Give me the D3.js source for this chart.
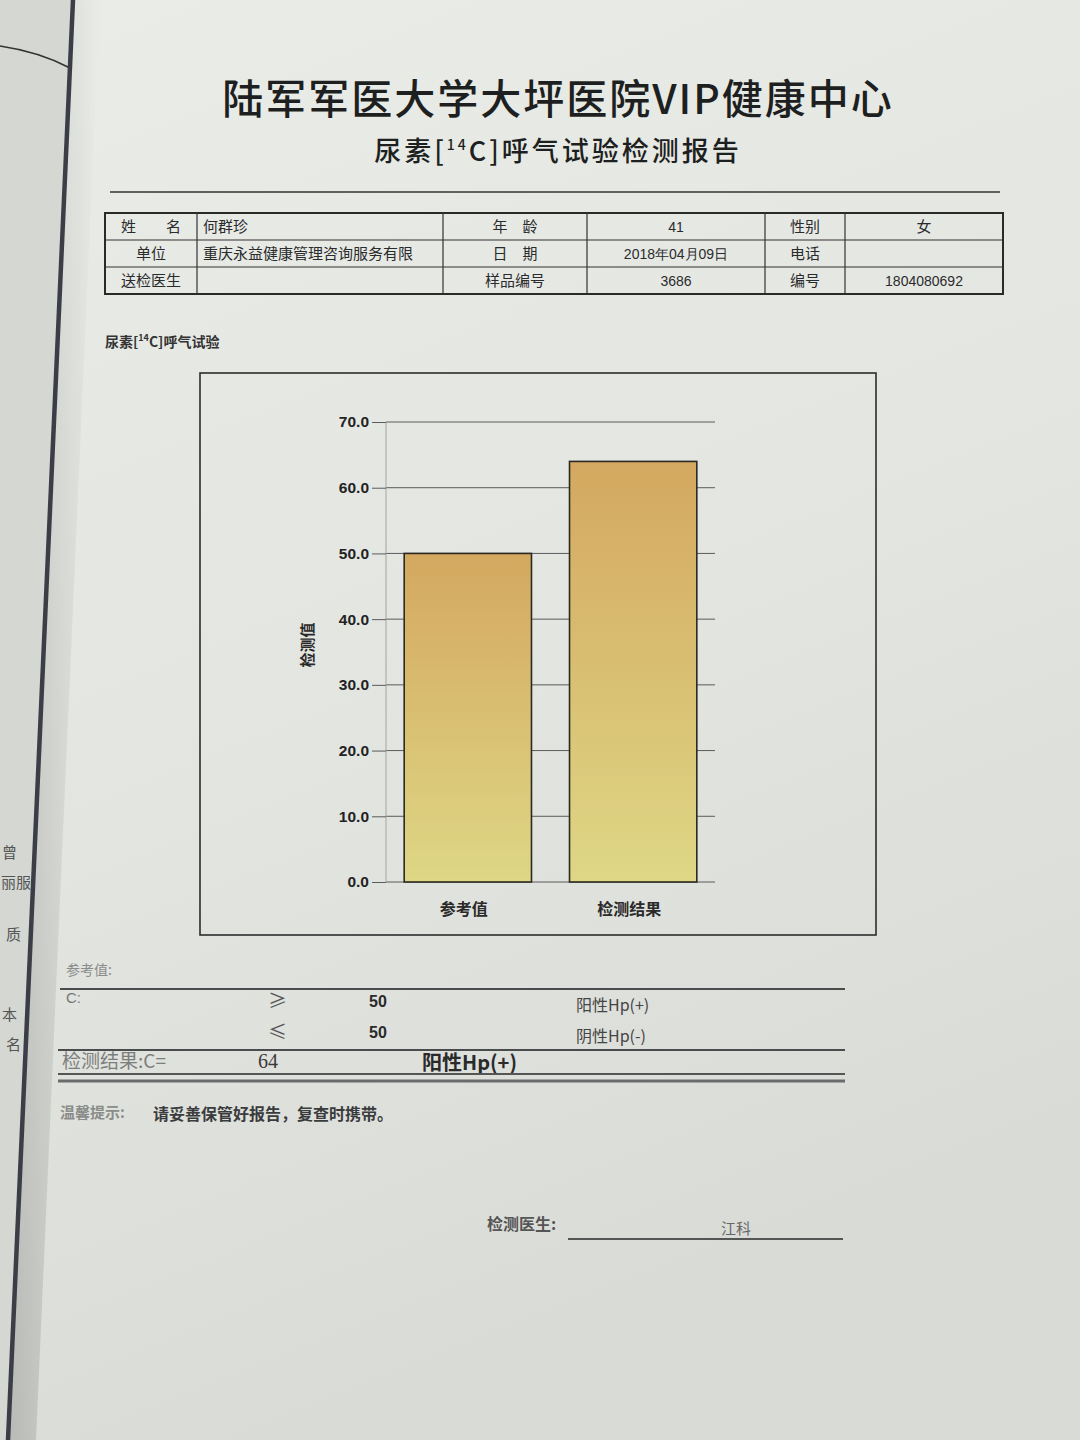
<!DOCTYPE html>
<html>
<head>
<meta charset="utf-8">
<script src="https://cdn.jsdelivr.net/npm/d3@7"></script>
<style>
  body { margin: 0; background: #e2e4e0; }
  svg { display: block; }
</style>
</head>
<body>
<svg id="page" width="1080" height="1440"></svg>
<script>
// ---------------- DATA ----------------
const titleMain = "陆军军医大学大坪医院VIP健康中心";
const categories = ["参考值", "检测结果"];
const values = [50, 64];
const yTicks = [0, 10, 20, 30, 40, 50, 60, 70];
const yAxisTitle = "检测值";
const tableRows = [
  ["姓　　名", "何群珍", "年　龄", "41", "性别", "女"],
  ["单位", "重庆永益健康管理咨询服务有限", "日　期", "2018年04月09日", "电话", ""],
  ["送检医生", "", "样品编号", "3686", "编号", "1804080692"]
];
const refRows = [
  ["≥", "50", "阳性Hp(+)"],
  ["≤", "50", "阴性Hp(-)"]
];
const resultValue = "64";
const resultText = "阳性Hp(+)";
const hintLabel = "温馨提示:";
const hintText = "请妥善保管好报告，复查时携带。";
const doctorLabel = "检测医生:";
const doctorName = "江科";
const leftPageChars = ["曾", "丽服", "质", "本", "名"];

// ---------------- SETUP ----------------
const svg = d3.select("#page");
const CJK = "'Noto Sans CJK SC', 'Noto Sans', sans-serif";
const LAT = "'Liberation Sans', Arial, sans-serif";
const ink = "#2a2b2c";

const defs = svg.append("defs");
const paper = defs.append("linearGradient").attr("id", "paper")
  .attr("x1", 0).attr("y1", 0).attr("x2", 0.3).attr("y2", 1);
paper.append("stop").attr("offset", "0%").attr("stop-color", "#eaece8");
paper.append("stop").attr("offset", "55%").attr("stop-color", "#e3e5e1");
paper.append("stop").attr("offset", "100%").attr("stop-color", "#d9dbd7");

const barGrad = defs.append("linearGradient").attr("id", "barGrad")
  .attr("x1", 0).attr("y1", 0).attr("x2", 0).attr("y2", 1);
barGrad.append("stop").attr("offset", "0%").attr("stop-color", "#d4a860");
barGrad.append("stop").attr("offset", "50%").attr("stop-color", "#d9bf72");
barGrad.append("stop").attr("offset", "100%").attr("stop-color", "#ded785");

const shade = defs.append("linearGradient").attr("id", "shade")
  .attr("x1", 0).attr("y1", 0).attr("x2", 1).attr("y2", 0);
shade.append("stop").attr("offset", "0%").attr("stop-color", "#000").attr("stop-opacity", 0.16);
shade.append("stop").attr("offset", "100%").attr("stop-color", "#000").attr("stop-opacity", 0);

// paper
svg.append("rect").attr("width", 1080).attr("height", 1440).attr("fill", "url(#paper)");

// left page of the booklet
svg.append("path").attr("d", "M0,0 L73,0 L8,1440 L0,1440 Z").attr("fill", "#d4d7d2");
svg.append("path").attr("d", "M73,0 L100,0 L36,1440 L8,1440 Z").attr("fill", "url(#shade)");
svg.append("path").attr("d", "M0,46 Q40,52 70,68").attr("fill", "none").attr("stroke", "#333").attr("stroke-width", 1.5);
const leftTxt = svg.append("g").attr("font-family", CJK).attr("font-size", 15).attr("fill", "#555");
const leftPos = [[2, 858], [1, 888], [6, 940], [2, 1020], [6, 1050]];
leftPageChars.forEach((c, i) => leftTxt.append("text").attr("x", leftPos[i][0]).attr("y", leftPos[i][1]).text(c));
svg.append("path").attr("d", "M73,0 L8,1440").attr("stroke", "#3b3e46").attr("stroke-width", 4.5).attr("fill", "none");

// ---------------- HEADER ----------------
svg.append("text").attr("x", 558).attr("y", 114).attr("text-anchor", "middle")
  .attr("font-family", CJK).attr("font-size", 41).attr("font-weight", 500)
  .attr("letter-spacing", 2).attr("fill", "#1e1f20").text(titleMain);

const sub = svg.append("text").attr("x", 558).attr("y", 161).attr("text-anchor", "middle")
  .attr("font-family", CJK).attr("font-size", 27).attr("font-weight", 500)
  .attr("letter-spacing", 3).attr("fill", "#1e1f20");
sub.append("tspan").text("尿素[");
sub.append("tspan").attr("font-size", 14).attr("dy", -11).text("14");
sub.append("tspan").attr("dy", 11).text("C]呼气试验检测报告");

svg.append("line").attr("x1", 110).attr("x2", 1000).attr("y1", 192).attr("y2", 192)
  .attr("stroke", "#333").attr("stroke-width", 1.6);

// ---------------- INFO TABLE ----------------
const colX = [105, 197, 443, 587, 765, 845, 1003];
const rowY = [213, 240, 267, 294];
const tbl = svg.append("g");
tbl.append("rect").attr("x", colX[0]).attr("y", rowY[0])
  .attr("width", colX[6] - colX[0]).attr("height", rowY[3] - rowY[0])
  .attr("fill", "none").attr("stroke", "#2a2a2a").attr("stroke-width", 2);
rowY.slice(1, 3).forEach(yy => tbl.append("line").attr("x1", colX[0]).attr("x2", colX[6])
  .attr("y1", yy).attr("y2", yy).attr("stroke", "#333").attr("stroke-width", 1.2));
colX.slice(1, 6).forEach(xx => tbl.append("line").attr("x1", xx).attr("x2", xx)
  .attr("y1", rowY[0]).attr("y2", rowY[3]).attr("stroke", "#333").attr("stroke-width", 1.2));
tableRows.forEach((row, r) => {
  row.forEach((cell, c) => {
    if (!cell) return;
    const isLeft = c === 1;
    const isLatin = /^[0-9]/.test(cell);
    tbl.append("text")
      .attr("x", isLeft ? colX[c] + 6 : (colX[c] + colX[c + 1]) / 2)
      .attr("y", rowY[r] + 19)
      .attr("text-anchor", isLeft ? "start" : "middle")
      .attr("font-family", isLatin ? LAT : CJK)
      .attr("font-size", isLatin ? 14 : 15)
      .attr("fill", ink).text(cell);
  });
});

// section label
const sec = svg.append("text").attr("x", 105).attr("y", 347)
  .attr("font-family", CJK).attr("font-size", 14).attr("font-weight", 700).attr("fill", "#333");
sec.append("tspan").text("尿素[");
sec.append("tspan").attr("font-size", 9).attr("dy", -6).text("14");
sec.append("tspan").attr("dy", 6).text("C]呼气试验");

// ---------------- CHART ----------------
svg.append("rect").attr("x", 200).attr("y", 373).attr("width", 676).attr("height", 562)
  .attr("fill", "none").attr("stroke", "#2c2c2c").attr("stroke-width", 1.6);

const plotL = 386, plotR = 715, plotT = 422, plotB = 882;
const y = d3.scaleLinear().domain([0, 70]).range([plotB, plotT]);
const x = d3.scaleBand().domain(categories).range([plotL, plotR])
  .paddingInner(0.23).paddingOuter(0.11);

const chart = svg.append("g");
// gridlines
chart.append("g").selectAll("line").data(yTicks).join("line")
  .attr("x1", plotL).attr("x2", plotR)
  .attr("y1", d => y(d)).attr("y2", d => y(d))
  .attr("stroke", "#5a5b5c").attr("stroke-width", 1);
// light vertical axis line
chart.append("line").attr("x1", plotL).attr("x2", plotL).attr("y1", plotT).attr("y2", plotB)
  .attr("stroke", "#a3a5a2").attr("stroke-width", 1);

const yAxis = chart.append("g").attr("transform", `translate(${plotL},0)`)
  .call(d3.axisLeft(y).tickValues(yTicks).tickFormat(d3.format(".1f")).tickSize(14).tickPadding(3));
yAxis.select(".domain").remove();
yAxis.selectAll(".tick line").attr("stroke", "#5a5b5c");
yAxis.selectAll(".tick text").attr("font-family", LAT).attr("font-size", 15.5)
  .attr("font-weight", 700).attr("fill", "#222");

// bars
chart.append("g").selectAll("rect").data(values).join("rect")
  .attr("x", (d, i) => x(categories[i]))
  .attr("y", d => y(d))
  .attr("width", x.bandwidth())
  .attr("height", d => y(0) - y(d))
  .attr("fill", "url(#barGrad)")
  .attr("stroke", "#2b2a22").attr("stroke-width", 1.6);

// category labels
chart.append("g").selectAll("text").data(categories).join("text")
  .attr("x", d => x(d) + x.bandwidth() / 2 - 4)
  .attr("y", 915)
  .attr("text-anchor", "middle")
  .attr("font-family", CJK).attr("font-size", 16).attr("font-weight", 700)
  .attr("fill", "#2a2a2a").text(d => d);

// y axis title
chart.append("text").attr("transform", "translate(313,645) rotate(-90)")
  .attr("text-anchor", "middle").attr("font-family", CJK).attr("font-size", 15)
  .attr("font-weight", 700).attr("fill", "#2a2a2a").text(yAxisTitle);

// ---------------- REFERENCE SECTION ----------------
const ref = svg.append("g");
ref.append("text").attr("x", 66).attr("y", 975).attr("font-family", CJK).attr("font-size", 14)
  .attr("fill", "#8a8c8a").text("参考值:");
ref.append("line").attr("x1", 60).attr("x2", 845).attr("y1", 989).attr("y2", 989)
  .attr("stroke", "#4a4b4c").attr("stroke-width", 2);
ref.append("text").attr("x", 66).attr("y", 1003).attr("font-family", LAT).attr("font-size", 15)
  .attr("fill", "#777").text("C:");
refRows.forEach((r, i) => {
  const by = 1008 + i * 31;
  ref.append("text").attr("x", 268).attr("y", by).attr("font-family", CJK).attr("font-size", 19)
    .attr("fill", "#555").text(r[0]);
  ref.append("text").attr("x", 369).attr("y", by - 1).attr("font-family", LAT).attr("font-size", 16)
    .attr("font-weight", 700).attr("fill", "#2a2a2a").text(r[1]);
  ref.append("text").attr("x", 576).attr("y", by + 3).attr("font-family", CJK).attr("font-size", 16)
    .attr("fill", "#444").text(r[2]);
});
ref.append("line").attr("x1", 58).attr("x2", 845).attr("y1", 1050).attr("y2", 1050)
  .attr("stroke", "#4a4b4c").attr("stroke-width", 2);
ref.append("text").attr("x", 62).attr("y", 1068).attr("font-family", CJK).attr("font-size", 19)
  .attr("fill", "#7c7e7c").text("检测结果:C=");
ref.append("text").attr("x", 258).attr("y", 1068).attr("font-family", "'Liberation Serif', serif").attr("font-size", 20)
  .attr("fill", "#3a3a3a").text(resultValue);
ref.append("text").attr("x", 422).attr("y", 1070).attr("font-family", CJK).attr("font-size", 20)
  .attr("font-weight", 700).attr("fill", "#2a2a2a").text(resultText);
ref.append("line").attr("x1", 58).attr("x2", 845).attr("y1", 1074).attr("y2", 1074)
  .attr("stroke", "#555").attr("stroke-width", 2);
ref.append("line").attr("x1", 58).attr("x2", 845).attr("y1", 1081).attr("y2", 1081)
  .attr("stroke", "#6a6b6c").attr("stroke-width", 3);

ref.append("text").attr("x", 60).attr("y", 1118).attr("font-family", CJK).attr("font-size", 15)
  .attr("font-weight", 700).attr("fill", "#8a8c8a").text(hintLabel);
ref.append("text").attr("x", 153).attr("y", 1120).attr("font-family", CJK).attr("font-size", 16)
  .attr("font-weight", 700).attr("fill", "#3a3b3c").text(hintText);

// doctor signature
ref.append("text").attr("x", 487).attr("y", 1230).attr("font-family", CJK).attr("font-size", 16)
  .attr("font-weight", 700).attr("fill", "#555").text(doctorLabel);
ref.append("line").attr("x1", 568).attr("x2", 843).attr("y1", 1239).attr("y2", 1239)
  .attr("stroke", "#555").attr("stroke-width", 1.8);
ref.append("text").attr("x", 736).attr("y", 1234).attr("text-anchor", "middle").attr("font-family", CJK)
  .attr("font-size", 15).attr("fill", "#666").text(doctorName);
</script>
</body>
</html>
